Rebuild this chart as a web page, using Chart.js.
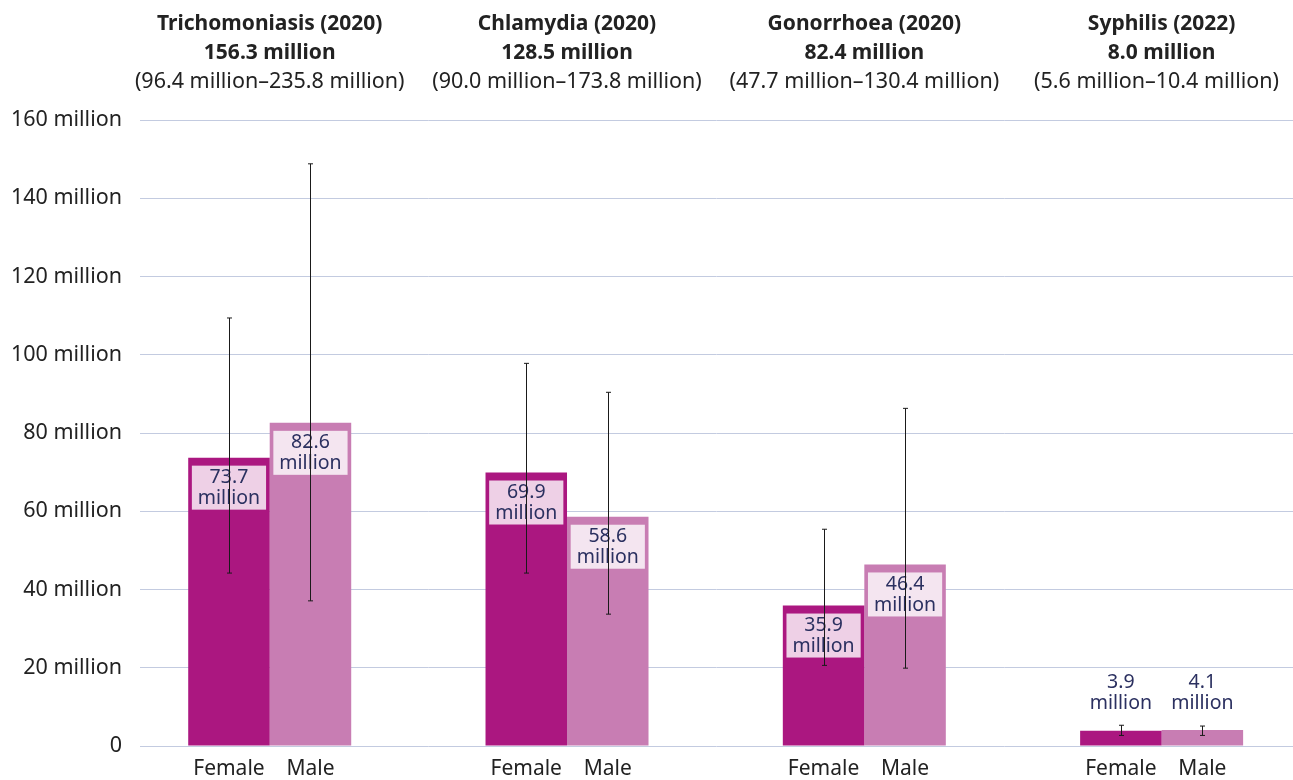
<!DOCTYPE html>
<html>
<head>
<meta charset="utf-8">
<script src="https://cdn.jsdelivr.net/npm/chart.js@4/dist/chart.umd.min.js"></script>
<style>
  html, body { margin: 0; padding: 0; background: #fff; }
  #wrap { width: 1293px; height: 780px; }
</style>
</head>
<body>
<div id="wrap"><canvas id="stiChart"></canvas></div>
<script>
// infections, header lines and values
const diseases = ['Trichomoniasis (2020)', 'Chlamydia (2020)', 'Gonorrhoea (2020)', 'Syphilis (2022)'];
const totals = ['156.3 million', '128.5 million', '82.4 million', '8.0 million'];
const ranges = ['(96.4 million\u2013235.8 million)', '(90.0 million\u2013173.8 million)',
                '(47.7 million\u2013130.4 million)', '(5.6 million\u201310.4 million)'];
const sexes = ['Female', 'Male'];

const femaleValues = [73.7, 69.9, 35.9, 3.9];
const maleValues = [82.6, 58.6, 46.4, 4.1];
const femaleLow = [44.2, 44.2, 20.6, 2.7];
const femaleHigh = [109.4, 97.8, 55.4, 5.3];
const maleLow = [37.1, 33.7, 19.9, 2.7];
const maleHigh = [148.8, 90.4, 86.3, 5.1];

const yTicks = [0, 20, 40, 60, 80, 100, 120, 140, 160];

const FONT = '"Noto Sans", sans-serif';
const female = '#ab1780';
const male = '#c87db3';

const ranges95 = [
    { low: femaleLow, high: femaleHigh },
    { low: maleLow, high: maleHigh }
];

// headers above each group
const headerPlugin = {
    id: 'headers',
    afterDraw(chart) {
        const ctx = chart.ctx;
        const x = chart.scales.x;
        ctx.save();
        ctx.fillStyle = '#222';
        ctx.textAlign = 'center';
        ctx.textBaseline = 'middle';
        diseases.forEach((d, i) => {
            const cx = x.getPixelForValue(i);
            ctx.font = 'bold 21px ' + FONT;
            ctx.fillText(d, cx, 24);
            ctx.fillText(totals[i], cx, 53);
            ctx.font = '21.5px ' + FONT;
            const w = ctx.measureText(ranges[i]).width;
            const px = Math.min(cx, chart.width - 14 - w / 2);
            ctx.fillText(ranges[i], px, 82);
        });
        ctx.restore();
    }
};

// value labels and error bars
const labelPlugin = {
    id: 'valueLabels',
    afterDatasetsDraw(chart) {
        const ctx = chart.ctx;
        const y = chart.scales.y;
        ctx.save();
        ctx.font = '19.5px ' + FONT;
        ctx.textAlign = 'center';
        ctx.textBaseline = 'middle';
        chart.data.datasets.forEach((ds, di) => {
            chart.getDatasetMeta(di).data.forEach((bar, i) => {
                const v = ds.data[i].y;
                const lines = [v.toFixed(1), 'million'];
                const w = ctx.measureText('million').width + 12;
                const h = 44;
                const tall = (y.getPixelForValue(0) - bar.y) > 60;
                const top = tall ? bar.y + 8 : bar.y - 60;
                if (tall) {
                    ctx.fillStyle = 'rgba(255,255,255,0.8)';
                    ctx.fillRect(bar.x - w / 2, top, w, h);
                }
                ctx.fillStyle = '#2b3060';
                ctx.fillText(lines[0], bar.x, top + 12);
                ctx.fillText(lines[1], bar.x, top + 33);
            });
        });
        // whiskers on top
        ctx.strokeStyle = '#1a1a1a';
        ctx.lineWidth = 1;
        chart.data.datasets.forEach((ds, di) => {
            chart.getDatasetMeta(di).data.forEach((bar, i) => {
                const x = Math.round(bar.x) + 0.5;
                const lo = y.getPixelForValue(ranges95[di].low[i]);
                const hi = y.getPixelForValue(ranges95[di].high[i]);
                ctx.beginPath();
                ctx.moveTo(x, hi); ctx.lineTo(x, lo);
                ctx.moveTo(x - 2.5, hi); ctx.lineTo(x + 2.5, hi);
                ctx.moveTo(x - 2.5, lo); ctx.lineTo(x + 2.5, lo);
                ctx.stroke();
            });
        });
        ctx.restore();
    }
};

const halfBar = 0.1371;

new Chart(document.getElementById('stiChart'), {
    type: 'bar',
    data: {
        datasets: [
            {
                label: sexes[0],
                data: femaleValues.map((v, i) => ({ x: i, y: v })),
                backgroundColor: female,
                borderWidth: 0,
                inflateAmount: 0,
                barThickness: 81.5
            },
            {
                label: sexes[1],
                data: maleValues.map((v, i) => ({ x: i, y: v })),
                backgroundColor: male,
                borderWidth: 0,
                inflateAmount: 0,
                barThickness: 81.5
            }
        ]
    },
    options: {
        responsive: true,
        maintainAspectRatio: false,
        animation: false,
        layout: { padding: { top: 120, right: 0, bottom: 0, left: 0 } },
        plugins: {
            legend: { display: false },
            tooltip: { enabled: false }
        },
        scales: {
            x: {
                type: 'linear',
                offset: false,
                min: -0.4363,
                max: 3.4419,
                grid: { display: false },
                border: { display: false },
                afterBuildTicks(scale) {
                    const t = [];
                    diseases.forEach((d, i) => {
                        t.push({ value: i - halfBar });
                        t.push({ value: i + halfBar });
                    });
                    scale.ticks = t;
                },
                afterFit(scale) { scale.height = 34; },
                ticks: {
                    autoSkip: false,
                    maxRotation: 0,
                    padding: 2,
                    color: '#222',
                    font: { family: FONT, size: 21 },
                    callback: (v, i) => sexes[i % 2]
                }
            },
            y: {
                min: 0,
                max: 160,
                afterBuildTicks(scale) {
                    scale.ticks = yTicks.map(v => ({ value: v }));
                },
                afterFit(scale) { scale.width = 140; },
                grid: { color: '#c3cbe0', lineWidth: 1, drawTicks: false },
                border: { display: false },
                ticks: {
                    padding: 18,
                    color: '#222',
                    font: { family: FONT, size: 21.5 },
                    callback: v => v === 0 ? '0' : v + ' million'
                }
            }
        }
    },
    plugins: [headerPlugin, labelPlugin]
});
</script>
</body>
</html>
